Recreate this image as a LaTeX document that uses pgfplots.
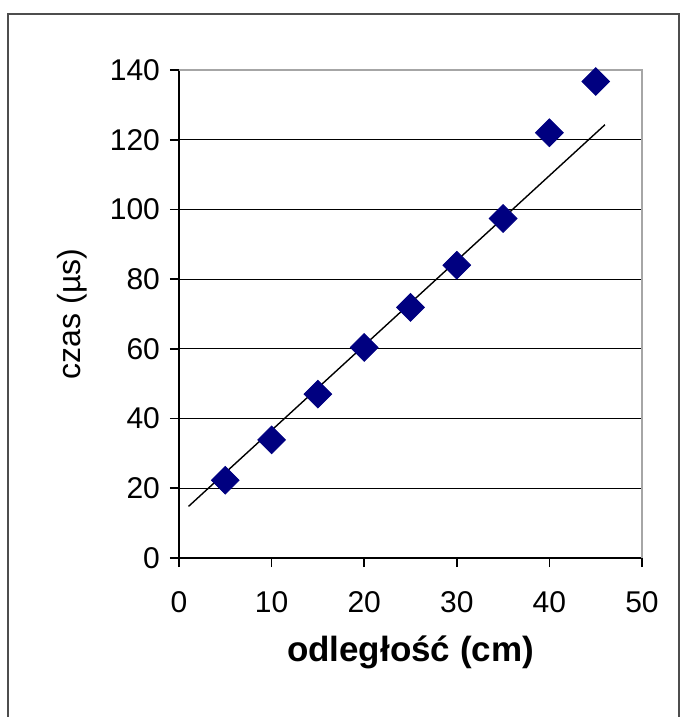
\documentclass[border=0pt]{standalone}
\usepackage{fontspec}
\setmainfont{Liberation Sans}
\usepackage{pgfplots}
\pgfplotsset{compat=1.18}
\definecolor{navymark}{HTML}{000080}
\definecolor{framegray}{HTML}{4D4D4D}
\definecolor{boxgray}{HTML}{A6A6A6}

\begin{document}
\begin{tikzpicture}
\begin{axis}[
    at={(0,0)}, anchor=south west,
    scale only axis,
    width=231.5pt, height=244pt,
    xmin=0, xmax=50, ymin=0, ymax=140,
    xtick={0,10,...,50}, ytick={0,20,...,140},
    xtick pos=bottom, ytick pos=left,
    axis line style={black, line width=0.7pt},
    tick align=outside,
    major tick length=4.5pt,
    every tick/.style={black, line width=0.8pt},
    ymajorgrids, grid style={black, line width=0.6pt},
    ticklabel style={font=\fontsize{15}{18}\selectfont},
    xticklabel style={yshift=-8.5pt},
    yticklabel style={xshift=-1.5pt},
    /pgf/number format/assume math mode=true,
    xlabel={odległość (cm)}, ylabel={czas (µs)},
    xlabel style={font=\fontsize{17.5}{20}\selectfont\bfseries,
        at={(axis description cs:0.5,-0.193)}, anchor=center},
    ylabel style={font=\fontsize{16}{19}\selectfont,
        at={(axis description cs:-0.231,0.5)}, anchor=center},
    clip=false,
]
% plot area border (top and right) in light grey over the black box
\draw[white, line width=1.2pt] (axis cs:0.3,140) -- (axis cs:50,140) -- (axis cs:50,0.3);
\draw[boxgray, line width=0.7pt] (axis cs:0,140) -- (axis cs:50,140) -- (axis cs:50,0);
% trend line
\addplot[black, line width=0.7pt, no marks] coordinates {(1.03,14.8) (46.0,124.3)};
% measurements
\addplot[only marks, mark=square*, mark size=4.9pt,
    mark options={rotate=45, fill=navymark, draw=navymark}] coordinates {
    (5,22.3) (10,33.9) (15,47.0) (20,60.4) (25,71.9)
    (30,84.0) (35,97.4) (40,122.0) (45,136.7)
};
\end{axis}
% outer chart frame
\draw[framegray, line width=1pt] (-85.5pt,-79.5pt) -- (-85.5pt,272pt) -- (250pt,272pt) -- (250pt,-79.5pt);
\pgfresetboundingbox
\useasboundingbox (-89.5pt,-79.5pt) rectangle (251pt,279pt);
\end{tikzpicture}
\end{document}
